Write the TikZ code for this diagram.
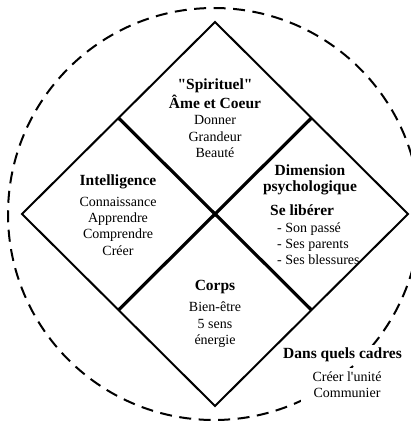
\documentclass[tikz,border=0pt]{standalone}
\usepackage{fontspec}
\setmainfont{Liberation Serif}[Ligatures=TeXOff]
\usetikzlibrary{calc}
\begin{document}
\begin{tikzpicture}[x=1pt,y=-1pt,
  outer/.style={line width=2pt, line join=miter},
  innerline/.style={line width=3.2pt},
  ring/.style={line width=2pt, dash pattern=on 12pt off 7.5pt},
  txt/.style={align=center, inner sep=0pt, font=\fontsize{14}{16.3}\selectfont}]
\useasboundingbox (0,0) rectangle (410,422);
\draw[ring] (214,214) circle[radius=206pt];
\coordinate (T) at (215,22);
\coordinate (L) at (22,214);
\coordinate (R) at (408,214);
\coordinate (B) at (215,406);
\coordinate (TL) at ($(T)!0.5!(L)$);
\coordinate (TR) at ($(T)!0.5!(R)$);
\coordinate (BL) at ($(B)!0.5!(L)$);
\coordinate (BR) at ($(B)!0.5!(R)$);
\draw[outer] (T) -- (R) -- (B) -- (L) -- cycle;
\draw[innerline] (TL) -- (BR);
\draw[innerline] (TR) -- (BL);
\node[txt] (spi) at (215,118) {{\bfseries\fontsize{15.5}{16.3}\selectfont "Spirituel"}\\[1.7pt]{\bfseries\fontsize{15.5}{16.3}\selectfont Âme et Coeur}\\Donner\\Grandeur\\Beauté};
\node[txt] (int) at (118,215) {{\bfseries\fontsize{15.5}{16.3}\selectfont Intelligence}\\[4.5pt]Connaissance\\Apprendre\\Comprendre\\Créer};
\node[txt] (dim) at (310,180) {{\bfseries\fontsize{15.5}{16.3}\selectfont Dimension}\\{\bfseries\fontsize{15.5}{16.3}\selectfont psychologique}};
\node[txt, align=left, anchor=west] (lib) at (270,235) {{\bfseries\fontsize{15.5}{16.3}\selectfont Se libérer}\\\hspace*{7pt}- Son passé\\\hspace*{7pt}- Ses parents\\\hspace*{7pt}- Ses blessures};
\node[txt] (cor) at (215,314) {{\bfseries\fontsize{15.5}{16.3}\selectfont Corps}\\[4.5pt]Bien-être\\5 sens\\énergie};
\node[txt, fill=white, inner xsep=3pt, inner ysep=3pt] (dqc) at (342.5,355) {{\bfseries\fontsize{15.5}{16.3}\selectfont Dans quels cadres}};
\node[txt, fill=white, inner xsep=12pt, inner ysep=4pt] (cre) at (347,385) {Créer l'unité\\Communier};
\end{tikzpicture}
\end{document}
